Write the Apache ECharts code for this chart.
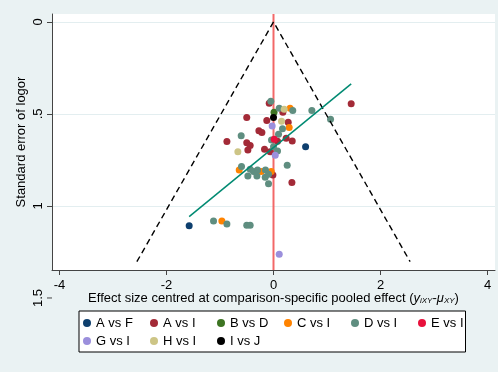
<!DOCTYPE html>
<html><head><meta charset="utf-8">
<script src="https://cdn.jsdelivr.net/npm/echarts@6/dist/echarts.min.js"></script>
<style>html,body{margin:0;padding:0;background:#eaf2f3}#c{width:498px;height:372px}</style>
</head><body><div id="c"></div>
<script>
// ---------- data ----------
const groups = ['A vs F','A vs I','B vs D','C vs I','D vs I','E vs I','G vs I','H vs I','I vs J'];
const groupColors = ['#0e3f6e','#a32a37','#3d7422','#ff8300','#5f8e80','#e8113c','#9b8fdc','#cdc586','#000000'];
// points: [effect size centred, standard error]
const AvsF = [[0.60,0.678],[-1.576,1.107]];
const AvsI = [[-0.08,0.442],[0.175,0.491],[-0.125,0.536],[-0.50,0.520],[0.275,0.545],[-0.273,0.592],
  [-0.217,0.601],[0.075,0.649],[0.237,0.632],[0.35,0.647],[-0.871,0.650],[-0.50,0.656],[-0.436,0.672],
  [-0.479,0.696],[-0.168,0.692],[-0.062,0.705],[1.452,0.444],[-0.011,0.832],[0.344,0.873]];
const BvsD = [[0.01,0.491]];
const CvsI = [[0.31,0.469],[0.293,0.574],[-0.641,0.804],[-0.23,0.813],[-0.043,0.813],[-0.965,1.082]];
const DvsI = [[-0.05,0.431],[0.107,0.469],[0.36,0.482],[0.168,0.580],[-0.604,0.618],[0.094,0.610],
  [-0.037,0.641],[0.075,0.701],[0.0,0.678],[0.717,0.482],[1.066,0.529],[0.256,0.779],[-0.598,0.786],
  [-0.436,0.800],[-0.374,0.813],[-0.299,0.804],[-0.15,0.804],[-0.479,0.837],[-0.31,0.837],[-0.155,0.844],
  [-0.093,0.828],[-0.093,0.880],[-1.121,1.082],[-0.871,1.098],[-0.50,1.105],[-0.436,1.105]];
const EvsI = [[0.013,0.638]];
const GvsI = [[-0.025,0.565],[0.032,0.725],[0.107,1.263]];
const HvsI = [[0.20,0.475],[0.15,0.540],[-0.666,0.705]];
const IvsJ = [[0.0,0.520]];
const groupData = [AvsF,AvsI,BvsD,CvsI,DvsI,EvsI,GvsI,HvsI,IvsJ];
// pseudo 95% confidence limits (funnel) and fitted line
const funnelLine = [[-2.554,1.303],[0,0],[2.554,1.303]];
const fitLine = [[-1.576,1.058],[1.452,0.337]];
const refX = 0;
const xTicks = [-4,-2,0,2,4];
const yTicks = [0,0.5,1];
const yExtraTick = 1.5;
const xRange = [-4.14,4.14];
const yRange = [-0.043,1.348];

// ---------- chart ----------
const FONT = 'Liberation Sans, Arial, sans-serif';
const fmt = v => String(v).replace(/^0\./,'.').replace(/^-0\./,'-.');
const chart = echarts.init(document.getElementById('c'), null, {renderer:'canvas'});
const series = groups.map((g,i)=>({
  name:g, type:'scatter', data:groupData[i], symbol:'circle', symbolSize:7,
  itemStyle:{color:groupColors[i], opacity:1}, z:3
}));
series.unshift({
  type:'line', data:[[refX,yRange[0]],[refX,yRange[1]]], symbol:'none', silent:true,
  lineStyle:{color:'#f26868', width:2}, z:1
});
series.push({
  type:'line', data:funnelLine, symbol:'none', silent:true,
  lineStyle:{color:'#000', width:1.4, type:[6,4]}, z:5
});
series.push({
  type:'line', data:fitLine, symbol:'none', silent:true,
  lineStyle:{color:'#008a72', width:1.5}, z:5
});
chart.setOption({
  backgroundColor:'#eaf2f3',
  animation:false,
  textStyle:{fontFamily:FONT},
  grid:{left:52, right:3, top:14, bottom:102, show:true, backgroundColor:'#ffffff', borderWidth:0},
  xAxis:{
    type:'value', min:xRange[0], max:xRange[1],
    axisLine:{show:true, onZero:false, lineStyle:{color:'#444', width:1}},
    axisTick:{show:true, length:5, customValues:xTicks, lineStyle:{color:'#444'}},
    axisLabel:{customValues:xTicks, margin:9, fontSize:13, color:'#000', fontFamily:FONT, formatter:fmt},
    splitLine:{show:false},
    name:'Effect size centred at comparison-specific pooled effect ({i|y}{s|iXY}-{i|μ}{s|XY})',
    nameLocation:'middle', nameGap:21, nameMoveOverlap:false,
    nameTextStyle:{fontSize:13, color:'#000', fontFamily:FONT,
      rich:{i:{fontSize:13, fontStyle:'italic', color:'#000', fontFamily:FONT},
            s:{fontSize:8, fontStyle:'italic', color:'#000', fontFamily:FONT, padding:[6,0,0,0]}}}
  },
  yAxis:{
    type:'value', inverse:true, min:yRange[0], max:yRange[1],
    axisLine:{show:true, onZero:false, lineStyle:{color:'#444', width:1}},
    axisTick:{show:true, length:5, customValues:yTicks, lineStyle:{color:'#444'}},
    axisLabel:{customValues:yTicks, margin:7, fontSize:13, color:'#000', rotate:90, fontFamily:FONT, formatter:fmt},
    splitLine:{show:true, lineStyle:{color:'#e3eef0', width:1}},
    name:'Standard error of logor', nameLocation:'middle', nameGap:24, nameMoveOverlap:false,
    nameTextStyle:{fontSize:13, color:'#000', fontFamily:FONT}
  },
  legend:{
    left:79, top:311, width:410, orient:'horizontal',
    icon:'circle', itemWidth:8, itemHeight:8, itemGap:4,
    padding:[5,2,4,4], borderColor:'#000', borderWidth:1, backgroundColor:'#ffffff',
    textStyle:{fontSize:13, color:'#000', fontFamily:FONT, width:50, lineHeight:14},
    data:groups.map((g,i)=> i===5 ? {name:g, textStyle:{width:30}} : g)
  },
  series:series
});
// tick beyond the plot region (Stata draws the 1.5 tick below the plot)
const py = chart.convertToPixel({yAxisIndex:0}, yExtraTick);
const axX = chart.convertToPixel({xAxisIndex:0}, xRange[0]);
chart.setOption({graphic:[
  {type:'line', shape:{x1:axX-5, y1:py, x2:axX, y2:py}, style:{stroke:'#444', lineWidth:1}},
  {type:'text', x:axX-7-7, y:py, rotation:Math.PI/2,
   style:{text:fmt(yExtraTick), fontSize:13, fill:'#000', fontFamily:FONT, align:'center', verticalAlign:'middle'}}
]});
</script></body></html>
